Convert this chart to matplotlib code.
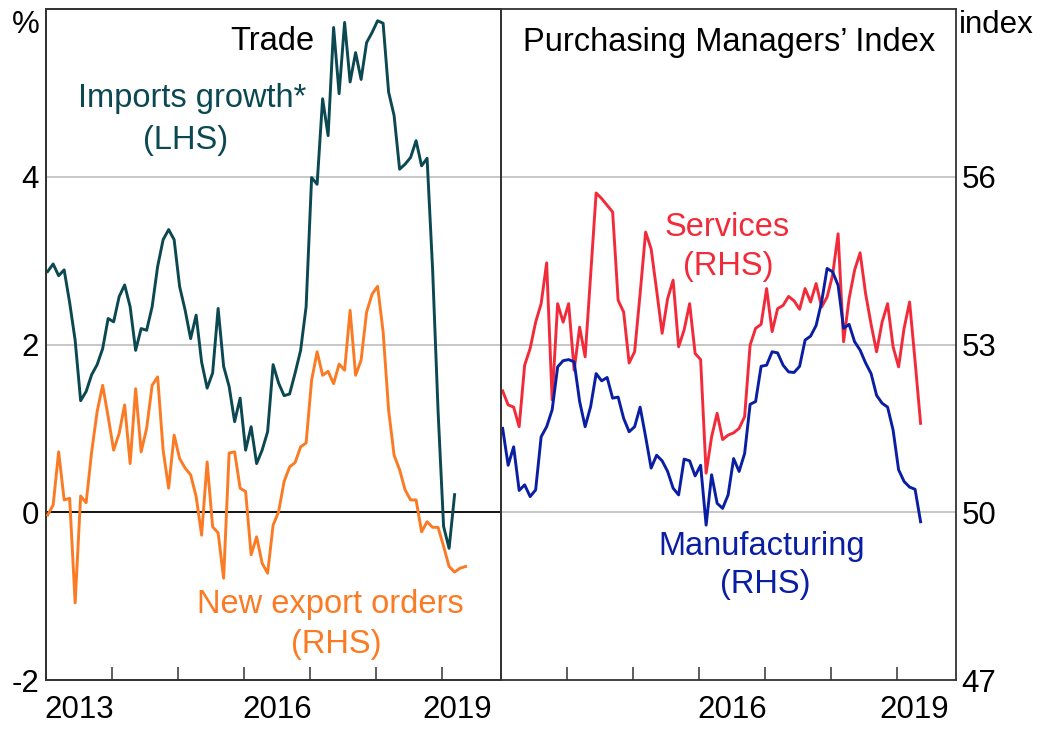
import numpy as np
import matplotlib
matplotlib.use('Agg')
import matplotlib.pyplot as plt

plt.rcParams['font.family'] = ['Liberation Sans', 'DejaVu Sans']

# monthly data, Jan 2013 onwards
imports_growth = [2.87, 2.96, 2.82, 2.89, 2.5, 2.05, 1.33, 1.44, 1.64, 1.76,
                  1.95, 2.31, 2.27, 2.57, 2.71, 2.45, 1.93, 2.19, 2.17, 2.45,
                  2.93, 3.25, 3.37, 3.25, 2.69, 2.41, 2.07, 2.35, 1.79, 1.48,
                  1.66, 2.43, 1.74, 1.50, 1.08, 1.36, 0.74, 1.02, 0.58, 0.74,
                  0.96, 1.76, 1.54, 1.39, 1.41, 1.66, 1.93, 2.45, 3.99, 3.91,
                  4.93, 4.49, 5.78, 4.99, 5.84, 5.13, 5.48, 5.16, 5.60, 5.72,
                  5.86, 5.83, 5.01, 4.73, 4.09, 4.15, 4.23, 4.43, 4.13, 4.22,
                  2.9, 1.2, -0.17, -0.43, 0.21]
new_export_orders = [49.95, 50.13, 51.08, 50.22, 50.25, 48.38, 50.29, 50.17, 51.08, 51.80,
                     52.27, 51.71, 51.11, 51.41, 51.92, 50.87, 52.21, 51.08, 51.50, 52.27,
                     52.42, 51.11, 50.43, 51.38, 50.96, 50.79, 50.67, 50.28, 49.59, 50.90,
                     49.74, 49.63, 48.82, 51.06, 51.08, 50.43, 50.37, 49.24, 49.56, 49.09,
                     48.91, 49.77, 50.01, 50.55, 50.81, 50.89, 51.17, 51.24, 52.36, 52.87,
                     52.45, 52.52, 52.30, 52.65, 52.54, 53.61, 52.45, 52.72, 53.58, 53.90,
                     54.04, 53.23, 51.83, 51.02, 50.76, 50.40, 50.22, 50.22, 49.65, 49.83,
                     49.73, 49.73, 49.39, 49.03, 48.93, 49.00, 49.03]
services = [52.17, 51.92, 51.88, 51.53, 52.63, 52.93, 53.40, 53.73, 54.46, 52.01,
            53.73, 53.40, 53.73, 52.54, 53.31, 52.78, 54.24, 55.71, 55.61, 55.49,
            55.37, 53.79, 53.58, 52.67, 52.87, 53.91, 55.01, 54.71, 53.97, 53.20,
            53.82, 54.15, 52.96, 53.26, 53.73, 52.84, 52.73, 50.70, 51.35, 51.77,
            51.30, 51.38, 51.42, 51.50, 51.71, 52.99, 53.29, 53.36, 54.00, 53.23,
            53.64, 53.70, 53.86, 53.78, 53.63, 54.00, 53.76, 54.09, 53.67, 53.85,
            54.24, 54.98, 53.05, 53.82, 54.33, 54.64, 53.91, 53.36, 52.87, 53.40,
            53.73, 52.96, 52.60, 53.29, 53.76, 52.70, 51.59]
manufacturing = [51.50, 50.84, 51.17, 50.39, 50.49, 50.28, 50.40, 51.35, 51.53, 51.83,
                 52.60, 52.71, 52.73, 52.69, 51.98, 51.53, 51.89, 52.48, 52.35, 52.41,
                 52.04, 52.06, 51.68, 51.44, 51.53, 51.88, 51.35, 50.79, 51.02, 50.92,
                 50.73, 50.43, 50.31, 50.95, 50.92, 50.65, 50.84, 49.77, 50.67, 50.16,
                 50.07, 50.31, 50.96, 50.73, 51.05, 51.93, 51.98, 52.61, 52.63, 52.87,
                 52.85, 52.63, 52.51, 52.50, 52.61, 53.08, 53.15, 53.34, 53.76, 54.36,
                 54.30, 54.06, 53.29, 53.36, 53.05, 52.90, 52.67, 52.48, 52.09, 51.95,
                 51.88, 51.47, 50.76, 50.55, 50.45, 50.41, 49.83]

year_ticks = [2014, 2015, 2016, 2017, 2018, 2019]
lhs_ticks = [-2, 0, 2, 4]
rhs_ticks = [47, 50, 53, 56]

# colours
c_imp = '#0B4852'
c_exp = '#FB7A24'
c_srv = '#F22B3B'
c_man = '#0A1EA4'
c_grid = '#BEBEBE'

FS_TICK = 22.5
FS_TEXT = 23.5


def month_axis(n):
    # decimal years for monthly obs starting Jan 2013
    return 2013 + (np.arange(n) + 0.3) / 12.0


fig = plt.figure(figsize=(10.4, 7.31), dpi=100)
W, H = 1040.0, 731.0
ax1 = fig.add_axes([46 / W, 51 / H, 455 / W, 671 / H])
ax2 = fig.add_axes([501 / W, 51 / H, 455 / W, 671 / H])

# left panel (LHS % and RHS index on twin)
ax1.set_ylim(-2, 6)
ax1.set_xlim(2013.0, 2019.895)
for v in [2, 4]:
    ax1.axhline(v, color=c_grid, lw=1.2, zorder=1)
ax1.axhline(0, color='black', lw=1.3, zorder=2)
ax1.plot(month_axis(len(imports_growth)), imports_growth, color=c_imp, lw=2.1, zorder=4)
ax1b = ax1.twinx()
ax1b.set_ylim(47, 59)
ax1b.plot(month_axis(len(new_export_orders)), new_export_orders, color=c_exp, lw=2.1, zorder=3)
ax1b.set_yticks([])

ax1.set_yticks(lhs_ticks)
ax1.set_yticklabels([str(t) for t in lhs_ticks])
ax1.tick_params(axis='y', length=0, pad=5, labelsize=FS_TICK)

# right panel
ax2.set_ylim(47, 59)
ax2.set_xlim(2013.0, 2019.895)
for v in [50, 53, 56]:
    ax2.axhline(v, color=c_grid, lw=1.2, zorder=1)
ax2.plot(month_axis(len(services)), services, color=c_srv, lw=2.1, zorder=3)
ax2.plot(month_axis(len(manufacturing)), manufacturing, color=c_man, lw=2.1, zorder=4)
ax2.yaxis.tick_right()
ax2.set_yticks(rhs_ticks)
ax2.set_yticklabels([str(t) for t in rhs_ticks])
ax2.tick_params(axis='y', length=0, pad=4, labelsize=FS_TICK)

# x axes: year boundary ticks inside, labels centred on years
for ax, lab_pos, labs in [(ax1, [2013.5, 2016.5, 2019.23], ['2013', '2016', '2019']),
                          (ax2, [2016.5, 2019.26], ['2016', '2019'])]:
    ax.set_xticks(year_ticks)
    ax.set_xticklabels([])
    ax.tick_params(axis='x', which='major', direction='in', length=9.5, width=1.1, color='#333333')
    ax.set_xticks(lab_pos, minor=True)
    ax.set_xticklabels(labs, minor=True)
    ax.tick_params(axis='x', which='minor', length=0, pad=11, labelsize=FS_TICK)

for ax in [ax1, ax1b, ax2]:
    for s in ax.spines.values():
        s.set_color('#333333')
        s.set_linewidth(1.3)

# unit labels
fig.text(40 / W, 1 - 10 / H, '%', ha='right', va='top', fontsize=FS_TICK)
fig.text(959 / W, 1 - 10 / H, 'index', ha='left', va='top', fontsize=FS_TICK)

# panel titles
fig.text(272 / W, 1 - 42 / H, 'Trade', ha='center', va='center', fontsize=FS_TEXT)
fig.text(729 / W, 1 - 42 / H, 'Purchasing Managers\u2019 Index', ha='center', va='center', fontsize=FS_TEXT)

# series labels
def lab(x, y, s, c):
    fig.text(x / W, 1 - y / H, s, ha='center', va='center', fontsize=FS_TEXT, color=c)

lab(192, 98, 'Imports growth*', c_imp)
lab(186, 141, '(LHS)', c_imp)
lab(330, 605, 'New export orders', c_exp)
lab(336, 645, '(RHS)', c_exp)
lab(727, 228, 'Services', c_srv)
lab(728, 266, '(RHS)', c_srv)
lab(762, 547, 'Manufacturing', c_man)
lab(765, 585, '(RHS)', c_man)

plt.savefig('out.png', dpi=100)
